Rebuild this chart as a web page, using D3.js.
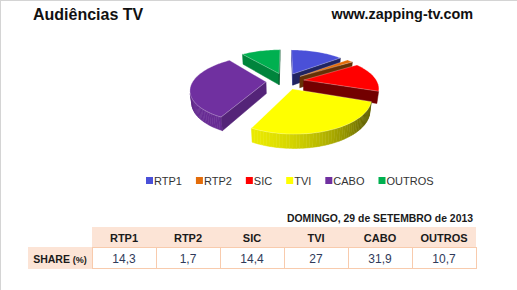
<!DOCTYPE html>
<html>
<head>
<meta charset="utf-8">
<script src="https://cdn.jsdelivr.net/npm/d3@7"></script>
<style>
  body { margin: 0; background: #fff; }
  svg { display: block; font-family: "Liberation Sans", Arial, sans-serif; }
</style>
</head>
<body>
<svg id="chart" width="517" height="290"></svg>
<script>
var channels = ['RTP1', 'RTP2', 'SIC', 'TVI', 'CABO', 'OUTROS'];
var shares = [14.3, 1.7, 14.4, 27, 31.9, 10.7];
var shareLabels = ['14,3', '1,7', '14,4', '27', '31,9', '10,7'];
var colors = ['#4a50d8', '#e36c0a', '#ff0000', '#ffff00', '#7030a0', '#00b050'];
var title = 'Audiências TV';
var site = 'www.zapping-tv.com';
var dateLabel = 'DOMINGO, 29 de SETEMBRO de 2013';
var rowLabel = 'SHARE ';
var rowUnit = '(%)';

var svg = d3.select('#chart');

// frame lines (top + left)
svg.append('line').attr('x1', 0).attr('x2', 517).attr('y1', 0.5).attr('y2', 0.5)
    .attr('stroke', '#d4d4d4');
svg.append('line').attr('x1', 0.5).attr('x2', 0.5).attr('y1', 0).attr('y2', 290)
    .attr('stroke', '#d4d4d4');

svg.append('text').attr('x', 33).attr('y', 20)
    .attr('font-size', 16).attr('font-weight', 'bold').attr('fill', '#111')
    .text(title);
svg.append('text').attr('x', 473).attr('y', 19).attr('text-anchor', 'end')
    .attr('font-size', 14.4).attr('font-weight', 'bold').attr('fill', '#111')
    .text(site);

// ---- 3D exploded pie ----
var cx = 285, cy = 81, S = 73;
var phi = 25.7 * Math.PI / 180, sn = Math.sin(phi), cs = Math.cos(phi);
var D = 4.3, depth = 0.18, explode = 0.26;
var cam = [0, D * sn, -D * cs];
var light = [-0.6, 0.3, -0.8];
var ll = Math.hypot(light[0], light[1], light[2]);
light = light.map(function(v) { return v / ll; });

function proj(p) {
    var yp = p[1] * cs + p[2] * sn;
    var zp = -p[1] * sn + p[2] * cs;
    var k = S / (1 + zp / D);
    return [cx + p[0] * k, cy - yp * k];
}

function shade(col, f) {
    var c = d3.rgb(col);
    return d3.rgb(c.r * f, c.g * f, c.b * f).toString();
}

var arcs = d3.pie().sort(null).value(function(d) { return d; })(shares);

var slices = arcs.map(function(a, i) {
    var t0 = a.startAngle, t1 = a.endAngle, m = (t0 + t1) / 2;
    var ox = explode * Math.sin(m), oz = explode * Math.cos(m);
    var pt = function(t, y) { return [ox + Math.sin(t), y, oz + Math.cos(t)]; };
    var n = Math.max(2, Math.ceil((t1 - t0) / (2 * Math.PI / 180)));
    var ts = d3.range(n + 1).map(function(j) { return t0 + (t1 - t0) * j / n; });
    var faces = [];
    // outer side
    for (var j = 0; j < n; j++) {
        var tm = (ts[j] + ts[j + 1]) / 2;
        var nrm = [Math.sin(tm), 0, Math.cos(tm)];
        var lit = Math.max(0, nrm[0] * light[0] + nrm[2] * light[2]);
        faces.push({
            pts: [pt(ts[j], 0), pt(ts[j + 1], 0), pt(ts[j + 1], -depth), pt(ts[j], -depth)],
            normal: nrm,
            fill: shade(colors[i], 0.4 + 0.55 * lit),
            edge: true
        });
    }
    var c0 = [ox, 0, oz], c1 = [ox, -depth, oz];
    faces.push({
        pts: [c0, pt(t0, 0), pt(t0, -depth), c1],
        normal: [-Math.cos(t0), 0, Math.sin(t0)],
        fill: shade(colors[i], 0.75), edge: true
    });
    faces.push({
        pts: [c0, pt(t1, 0), pt(t1, -depth), c1],
        normal: [Math.cos(t1), 0, -Math.sin(t1)],
        fill: shade(colors[i], 0.45), edge: true
    });
    faces = faces.filter(function(f) {
        var p = f.pts[0];
        var v = [cam[0] - p[0], cam[1] - p[1], cam[2] - p[2]];
        return f.normal[0] * v[0] + f.normal[1] * v[1] + f.normal[2] * v[2] > 0;
    });
    faces.push({
        pts: [c0].concat(ts.map(function(t) { return pt(t, 0); })),
        fill: colors[i], edge: false
    });
    return { key: Math.cos(m), faces: faces };
});

slices.sort(function(a, b) { return b.key - a.key; });

var pieG = svg.append('g');
slices.forEach(function(s) {
    var g = pieG.append('g');
    g.selectAll('path')
        .data(s.faces)
        .enter()
        .append('path')
        .attr('d', function(f) { return 'M' + f.pts.map(proj).join('L') + 'Z'; })
        .attr('fill', function(f) { return f.fill; })
        .attr('stroke', function(f) { return f.edge ? f.fill : 'rgba(255,255,255,0.45)'; })
        .attr('stroke-width', function(f) { return f.edge ? 0.5 : 0.6; })
        .attr('stroke-linejoin', 'round');
});

// ---- legend ----
var legend = svg.append('g').attr('transform', 'translate(146,181)');
var lx = 0;
channels.forEach(function(c, i) {
    var item = legend.append('g').attr('transform', 'translate(' + lx + ',0)');
    item.append('rect').attr('x', 0).attr('y', -4).attr('width', 7).attr('height', 7)
        .attr('fill', colors[i]);
    var t = item.append('text').attr('x', 8).attr('y', 4)
        .attr('font-size', 11).attr('fill', '#333')
        .text(c);
    lx += 8 + t.node().getComputedTextLength() + 14;
});

// ---- table ----
var x = d3.scaleBand().domain(channels).range([92, 476]);

svg.append('text').attr('x', 473).attr('y', 222).attr('text-anchor', 'end')
    .attr('font-size', 11).attr('font-weight', 'bold').attr('fill', '#1a1a1a')
    .attr('textLength', 186).attr('lengthAdjust', 'spacingAndGlyphs')
    .text(dateLabel);

svg.append('rect').attr('x', 92).attr('y', 227).attr('width', 384).attr('height', 20)
    .attr('fill', '#fce4d6');
svg.append('rect').attr('x', 28).attr('y', 247).attr('width', 64).attr('height', 22)
    .attr('fill', '#fce4d6');

svg.selectAll('.cell')
    .data(channels)
    .enter()
    .append('rect')
    .attr('class', 'cell')
    .attr('x', function(d) { return x(d) + 0.5; })
    .attr('y', 247.5)
    .attr('width', x.bandwidth())
    .attr('height', 21)
    .attr('fill', '#fff')
    .attr('stroke', '#f8cbad');

svg.selectAll('.head')
    .data(channels)
    .enter()
    .append('text')
    .attr('class', 'head')
    .attr('x', function(d) { return x(d) + x.bandwidth() / 2; })
    .attr('y', 242)
    .attr('text-anchor', 'middle')
    .attr('font-size', 11)
    .attr('font-weight', 'bold')
    .attr('fill', '#1a1a1a')
    .text(function(d) { return d; });

svg.selectAll('.val')
    .data(shareLabels)
    .enter()
    .append('text')
    .attr('class', 'val')
    .attr('x', function(d, i) { return x(channels[i]) + x.bandwidth() / 2; })
    .attr('y', 263)
    .attr('text-anchor', 'middle')
    .attr('font-size', 12)
    .attr('fill', '#2f3a5a')
    .text(function(d) { return d; });

var rl = svg.append('text').attr('x', 60).attr('y', 263).attr('text-anchor', 'middle')
    .attr('font-weight', 'bold').attr('fill', '#1a1a1a');
rl.append('tspan').attr('font-size', 10.5).text(rowLabel);
rl.append('tspan').attr('font-size', 9).text(rowUnit);
</script>
</body>
</html>
